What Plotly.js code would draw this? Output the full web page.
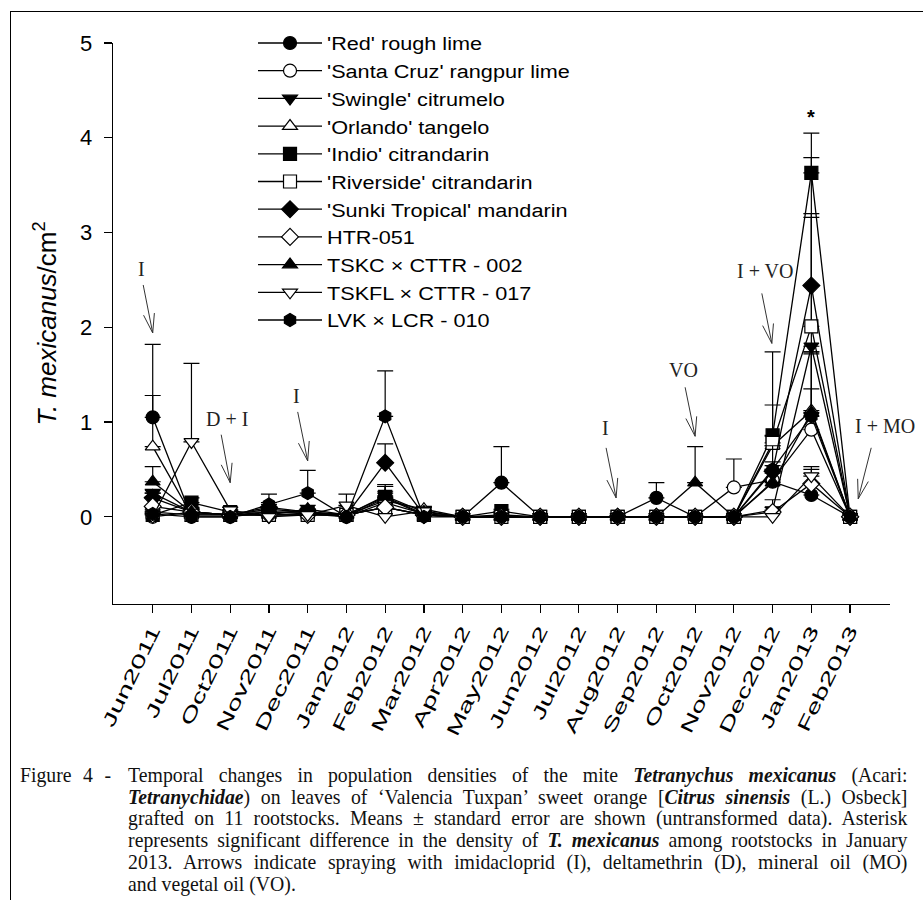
<!DOCTYPE html>
<html><head><meta charset="utf-8">
<script src="https://cdn.plot.ly/plotly-3.0.1.min.js"></script>
<style>
html,body{margin:0;padding:0;background:#fff;}
#wrap{position:relative;width:923px;height:900px;overflow:hidden;background:#fff;}
#chart{position:absolute;left:0;top:0;width:923px;height:900px;}
#frame{position:absolute;left:10px;top:11px;width:940px;height:920px;border:1.5px solid #000;pointer-events:none;}
#cap{position:absolute;left:20px;top:765px;width:944px;transform:scaleX(0.94);transform-origin:0 0;font-family:'Liberation Serif','Times New Roman',serif;font-size:21px;line-height:21.7px;color:#111;}
#cap .lab{position:absolute;left:0;top:0;word-spacing:7px;}
#cap .txt{margin-left:115px;}
#cap .ln{text-align:justify;text-align-last:justify;}
#cap .last{text-align:left;}
</style>
</head><body>
<div id="wrap">
<div id="chart"></div>
<div id="frame"></div>
<div id="cap">
<div class="lab">Figure 4 -</div>
<div class="txt">
<div class="ln">Temporal changes in population densities of the mite <b><i>Tetranychus mexicanus</i></b> (Acari:</div>
<div class="ln"><b><i>Tetranychidae</i></b>) on leaves of ‘Valencia Tuxpan’ sweet orange [<b><i>Citrus sinensis</i></b> (L.) Osbeck]</div>
<div class="ln">grafted on 11 rootstocks. Means ± standard error are shown (untransformed data). Asterisk</div>
<div class="ln">represents significant difference in the density of <b><i>T. mexicanus</i></b> among rootstocks in January</div>
<div class="ln">2013. Arrows indicate spraying with imidacloprid (I), deltamethrin (D), mineral oil (MO)</div>
<div class="last">and vegetal oil (VO).</div>
</div>
</div>
</div>
<script>
// ---- data ----
const months = ['Jun2011','Jul2011','Oct2011','Nov2011','Dec2011','Jan2012','Feb2012','Mar2012','Apr2012','May2012','Jun2012','Jul2012','Aug2012','Sep2012','Oct2012','Nov2012','Dec2012','Jan2013','Feb2013'];

const seriesNames = ["'Red' rough lime","'Santa Cruz' rangpur lime","'Swingle' citrumelo","'Orlando' tangelo","'Indio' citrandarin","'Riverside' citrandarin","'Sunki Tropical' mandarin","HTR-051","TSKC × CTTR - 002","TSKFL × CTTR - 017","LVK × LCR - 010"];

const redRoughLime   = [1.05,0.00,0.00,0.05,0.03,0.00,0.20,0.02,0,0.36,0,0,0,0.20,0,0,0.37,0.23,0];
const redRoughLimeSE = [0.77,0,0,0.05,0.03,0,0.14,0.02,0,0.38,0,0,0,0.16,0,0,0.13,0.23,0];
const santaCruz      = [0.00,0.05,0.02,0.02,0.02,0.02,0.10,0.02,0,0,0,0,0,0,0,0.31,0.39,0.92,0];
const santaCruzSE    = [0,0.05,0,0.02,0,0,0.10,0,0,0,0,0,0,0,0,0.30,0.15,0.43,0];
const swingle        = [0.25,0.05,0.02,0.05,0.05,0.00,0.15,0.03,0,0.02,0,0,0,0,0,0,0.07,1.80,0];
const swingleSE      = [0.04,0.04,0.02,0.03,0.03,0,0.10,0.02,0,0.02,0,0,0,0,0,0,0.11,1.36,0];
const orlando        = [0.74,0.02,0.02,0.02,0.08,0.02,0.17,0.08,0,0,0,0,0,0,0,0,0.75,1.12,0];
const orlandoSE      = [0.54,0.02,0.01,0.02,0.04,0.02,0.10,0.03,0,0,0,0,0,0,0,0,0.10,0.62,0];
const indio          = [0.02,0.15,0.05,0.05,0.05,0.02,0.21,0.03,0,0.06,0,0,0,0,0,0,0.86,3.63,0];
const indioSE        = [0.02,0.05,0.02,0.02,0.03,0.02,0.11,0.02,0,0.02,0,0,0,0,0,0,0.88,0.42,0];
const riverside      = [0.05,0.02,0.02,0.02,0.02,0.02,0.10,0.02,0,0,0,0,0,0,0,0,0.78,2.01,0];
const riversideSE    = [0.03,0.02,0,0,0,0,0.05,0,0,0,0,0,0,0,0,0,0.40,1.19,0];
const sunki          = [0.20,0.05,0.02,0.10,0.05,0.02,0.57,0.02,0,0,0,0,0,0,0,0,0.48,2.44,0];
const sunkiSE        = [0.05,0.02,0.01,0.05,0.02,0,0.20,0.02,0,0,0,0,0,0,0,0,0.10,1.35,0];
const htr051         = [0.11,0.05,0.02,0.02,0.02,0.02,0.10,0.02,0,0,0,0,0,0,0,0,0.05,0.35,0];
const htr051SE       = [0.10,0.03,0,0,0,0,0.05,0,0,0,0,0,0,0,0,0,0.05,0.15,0];
const tskc002        = [0.37,0.05,0.02,0.08,0.05,0.02,0.22,0.05,0,0,0,0,0,0,0.36,0,0.36,1.10,0];
const tskc002SE      = [0.16,0.03,0,0.03,0.03,0,0.10,0.02,0,0,0,0,0,0,0.38,0,0.10,0.64,0];
const tskfl017       = [0.00,0.79,0.07,0.00,0.02,0.12,0.00,0.06,0,0,0,0,0,0,0,0,0.00,0.43,0];
const tskfl017SE     = [0,0.83,0.03,0,0.02,0.12,0,0.04,0,0,0,0,0,0,0,0,0,0.10,0];
const lvk010         = [0.03,0.00,0.00,0.13,0.25,0.00,1.06,0.00,0,0.00,0,0,0,0,0,0,0.50,1.06,0];
const lvk010SE       = [0.03,0,0,0.11,0.24,0,0.48,0,0,0,0,0,0,0,0,0,0.25,0.66,0];

const allValues = [redRoughLime,santaCruz,swingle,orlando,indio,riverside,sunki,htr051,tskc002,tskfl017,lvk010];
const allSE     = [redRoughLimeSE,santaCruzSE,swingleSE,orlandoSE,indioSE,riversideSE,sunkiSE,htr051SE,tskc002SE,tskfl017SE,lvk010SE];
const symbols   = ['circle','circle','triangle-down','triangle-up','square','square','diamond','diamond','triangle-up','triangle-down','hexagon'];
const filled    = [true,false,true,false,true,false,true,false,true,false,true];

// spray annotations: [label, x index, y value]
const sprayLabels = [
  ['I', -0.28, 2.61],
  ['D + I', 1.91, 1.03],
  ['I', 3.72, 1.28],
  ['I', 11.69, 0.94],
  ['VO', 13.70, 1.55],
  ['I + VO', 15.80, 2.59],
  ['I + MO', 18.90, 0.96]
];
// arrow heads [x index, y value, tail dx px, tail dy px (screen, down positive)]
const arrowHeads = [
  [0.00, 1.94, -9.5, -48],
  [2.00, 0.36, -9, -48],
  [4.00, 0.59, -10, -49],
  [11.96, 0.20, -10, -50],
  [14.00, 0.85, -10, -49],
  [15.98, 1.83, -10, -50],
  [18.21, 0.19, 13, -51]
];

const FONT = "'Liberation Sans', Arial, sans-serif";
const SERIF = "'Liberation Serif', 'Times New Roman', serif";

const traces = allValues.map((vals, i) => ({
  type: 'scatter',
  mode: 'lines+markers',
  name: seriesNames[i],
  x: months,
  y: vals,
  line: {color: '#000', width: 1.3},
  marker: {symbol: symbols[i], size: 13, color: filled[i] ? '#000' : '#fff', line: {color: '#000', width: 1.2}},
  error_y: {type: 'data', symmetric: false, array: allSE[i].map(v => v > 0 ? v : NaN), arrayminus: [], color: '#000', thickness: 1.2, width: 8}
}));

const annotations = sprayLabels.map(s => ({
  x: s[1], y: s[2], xref: 'x', yref: 'y', text: s[0], showarrow: false,
  font: {family: SERIF, size: 20, color: '#222'}
}));
annotations.push({x: 17, y: 4.22, xref: 'x', yref: 'y', text: '<b>*</b>', showarrow: false, font: {family: FONT, size: 20, color: '#000'}});

const shapes = [];
function seg(hx, hy, dx, dy) {
  shapes.push({type: 'line', xref: 'x', yref: 'y', xsizemode: 'pixel', ysizemode: 'pixel', xanchor: hx, yanchor: hy,
    x0: 0, y0: 0, x1: dx, y1: -dy, line: {color: '#333', width: 1}});
}
arrowHeads.forEach(a => {
  const [hx, hy, dx, dy] = a;
  seg(hx, hy, dx, dy);
  const len = Math.hypot(dx, dy), ux = dx / len, uy = dy / len, L = 20, th = 16 * Math.PI / 180;
  [th, -th].forEach(t => {
    seg(hx, hy, (ux * Math.cos(t) - uy * Math.sin(t)) * L, (ux * Math.sin(t) + uy * Math.cos(t)) * L);
  });
});

const layout = {
  width: 923, height: 900,
  margin: {l: 113, r: 33, t: 43, b: 296},
  paper_bgcolor: 'rgba(0,0,0,0)', plot_bgcolor: 'rgba(0,0,0,0)',
  font: {family: FONT, color: '#000'},
  showlegend: true,
  legend: {x: 0.1802, xanchor: 'left', y: 1.0336, yanchor: 'top', bgcolor: 'rgba(0,0,0,0)', font: {family: FONT, size: 19, color: '#000'}, tracegroupgap: 0, itemwidth: 64},
  xaxis: {type: 'category', range: [-1.025, 19.03], showline: true, linecolor: '#000', linewidth: 1.3,
    ticks: 'outside', ticklen: 8, tickwidth: 1.2, tickcolor: '#000', tickangle: -64,
    tickfont: {family: FONT, size: 18, color: '#000'}, showgrid: false, zeroline: false},
  yaxis: {range: [-0.92, 5], tick0: 0, dtick: 1, showline: true, linecolor: '#000', linewidth: 1.3,
    ticks: 'outside', ticklen: 8, tickwidth: 1.2, tickcolor: '#000', ticklabelstandoff: 7,
    tickfont: {family: FONT, size: 22, color: '#000'}, showgrid: false, zeroline: false,
    title: {text: '<i>T. mexicanus</i>/cm<sup>2</sup>', font: {family: FONT, size: 26, color: '#000'}, standoff: 16}},
  annotations: annotations,
  shapes: shapes
};

function stretch(sel, factor, atEnd) {
  document.querySelectorAll(sel).forEach(el => {
    const bb = el.getBBox();
    const px = atEnd ? bb.x + bb.width : bb.x;
    const py = bb.y + bb.height / 2;
    const t = el.getAttribute('transform') || '';
    el.setAttribute('transform', t + ' translate(' + px + ',' + py + ') scale(' + factor + ',1) translate(' + (-px) + ',' + (-py) + ')');
  });
}

Plotly.newPlot('chart', traces, layout, {staticPlot: true, displayModeBar: false}).then(() => {
  stretch('#chart .xtick text', 1.62, true);
  stretch('#chart .legendtext', 1.14, false);
  document.querySelectorAll('#chart .legend [clip-path]').forEach(e => e.removeAttribute('clip-path'));
});
</script>
</body></html>
